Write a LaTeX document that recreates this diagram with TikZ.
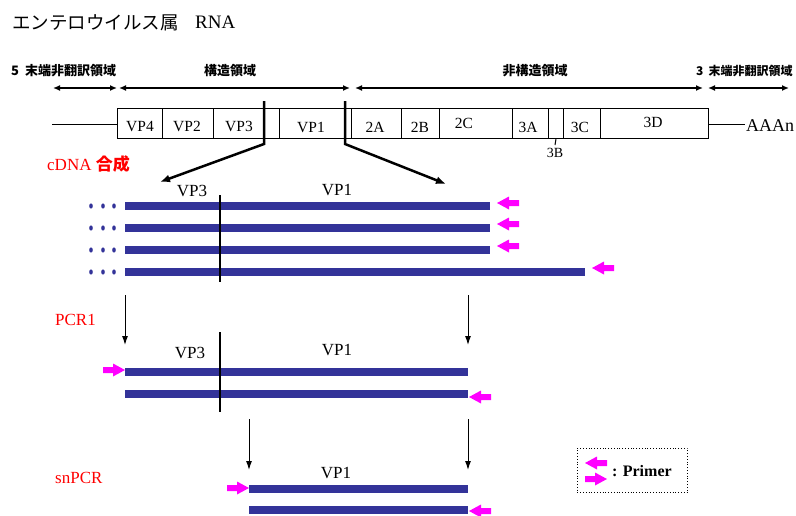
\documentclass[tikz,border=0pt]{standalone}
\usepackage{fontspec}
\setmainfont{Liberation Serif}
\newfontfamily\jp{Noto Sans CJK JP}
\usetikzlibrary{arrows.meta}
\definecolor{barblue}{RGB}{51,51,153}
\definecolor{prim}{RGB}{255,0,255}
\definecolor{lblred}{RGB}{255,0,0}
\begin{document}
\begin{tikzpicture}[x=1pt,y=-1pt,
  seg/.style={draw, line width=1pt, minimum height=30pt, inner sep=0pt, anchor=north west},
  lbl/.style={inner sep=0pt, anchor=base, font=\fontsize{15.5}{15.5}\selectfont},
  region/.style={inner sep=0pt, anchor=base, font=\jp\bfseries\fontsize{13}{13}\selectfont},
  big/.style={inner sep=0pt, anchor=base, font=\fontsize{17}{17}\selectfont},
  redlbl/.style={big, anchor=base west, text=lblred},
  span/.style={line width=1.5pt, {Latex[length=7pt,width=6pt]}-{Latex[length=7pt,width=6pt]}},
  strand/.style={fill=barblue, draw=none, inner sep=0pt, minimum height=8pt, anchor=west},
  cutline/.style={line width=2.5pt, -{Latex[length=10pt,width=8pt]}},
  vline/.style={line width=2.5pt},
  down/.style={line width=1pt, -{Latex[length=9pt,width=6pt]}},
  dotb/.style={fill=barblue},
  primerL/.pic={\fill[prim] (0,0) -- (12,-6.5) -- (12,-3) -- (22,-3) -- (22,3) -- (12,3) -- (12,6.5) -- cycle;},
  primerR/.pic={\fill[prim] (0,0) -- (-12,-6.5) -- (-12,-3) -- (-22,-3) -- (-22,3) -- (-12,3) -- (-12,6.5) -- cycle;}]
\useasboundingbox (0,0) rectangle (796,515);

% title
\node[anchor=base west, inner sep=0pt, font=\jp\fontsize{18.5}{18.5}\selectfont] (title) at (12,29) {エンテロウイルス属};
\node[anchor=base west, inner sep=0pt, font=\fontsize{19}{19}\selectfont] (rna) at (195,28) {RNA};

% region labels
\node[region, anchor=base west] (r5) at (11,75) {5\hspace{6pt}末端非翻訳領域};
\node[region] (rs) at (230,75) {構造領域};
\node[region] (rn) at (535,75) {非構造領域};
\node[region, anchor=base west, font=\jp\bfseries\fontsize{12}{12}\selectfont] (r3) at (696,75) {3\hspace{5pt}末端非翻訳領域};

% span arrows
\coordinate (a1) at (53,88); \coordinate (a2) at (117,88);
\coordinate (a3) at (119,88); \coordinate (a4) at (350,88);
\coordinate (a5) at (355,88); \coordinate (a6) at (703,88);
\coordinate (a7) at (708,88); \coordinate (a8) at (789,88);
\draw[span] (a1) -- (a2);
\draw[span] (a3) -- (a4);
\draw[span] (a5) -- (a6);
\draw[span] (a7) -- (a8);

% genome
\node[seg, minimum width=45pt] (vp4) at (117,108) {};
\node[seg, minimum width=51pt] (vp2) at (162,108) {};
\node[seg, minimum width=51pt] (vp3) at (213,108) {};
\node[seg, minimum width=15pt] (gap1) at (264,108) {};
\node[seg, minimum width=66pt] (vp1) at (279,108) {};
\node[seg, minimum width=6pt] (gap2) at (345,108) {};
\node[seg, minimum width=50pt] (s2a) at (351,108) {};
\node[seg, minimum width=38pt] (s2b) at (401,108) {};
\node[seg, minimum width=73pt] (s2c) at (439,108) {};
\node[seg, minimum width=36pt] (s3a) at (512,108) {};
\node[seg, minimum width=15pt] (s3b) at (548,108) {};
\node[seg, minimum width=37pt] (s3c) at (563,108) {};
\node[seg, minimum width=108pt] (s3d) at (600,108) {};

\node[lbl] (t1) at (140,131) {VP4};
\node[lbl] (t2) at (187,131) {VP2};
\node[lbl] (t3) at (239,131) {VP3};
\node[lbl] (t4) at (311,132) {VP1};
\node[lbl] (t5) at (375,132) {2A};
\node[lbl] (t6) at (420,132) {2B};
\node[lbl] (t7) at (464,128) {2C};
\node[lbl] (t8) at (528,132) {3A};
\node[lbl] (t9) at (580,132) {3C};
\node[lbl] (t10) at (653,127) {3D};
\node[inner sep=0pt, anchor=base, font=\fontsize{14}{14}\selectfont] (t3b) at (555,157) {3B};
\draw[line width=1pt] (s3b.south) -- (555,145);

\coordinate (l5) at (52,124);
\draw[line width=1pt] (l5) -- (vp4.west |- l5);
\node[inner sep=0pt, anchor=base west, font=\fontsize{18}{18}\selectfont] (aaan) at (746,131) {AAAn};
\draw[line width=1pt] (s3d.east |- l5) -- (745,124);

% cut lines
\coordinate (c1top) at (264,101); \coordinate (c1bot) at (264,144); \coordinate (c1tip) at (160,182);
\coordinate (c2top) at (345,101); \coordinate (c2bot) at (345,144); \coordinate (c2tip) at (446,184);
\draw[cutline] (c1top) -- (c1bot) -- (c1tip);
\draw[cutline] (c2top) -- (c2bot) -- (c2tip);

% cDNA section
\node[redlbl] (cdna) at (47,170) {cDNA {\jp\bfseries 合成}};
\node[big] (cvp3) at (192,196) {VP3};
\node[big] (cvp1) at (337,195) {VP1};
\node[strand, minimum width=365pt] (b1) at (125,206) {};
\node[strand, minimum width=365pt] (b2) at (125,228) {};
\node[strand, minimum width=365pt] (b3) at (125,250) {};
\node[strand, minimum width=460pt] (b4) at (125,272) {};
\foreach \yy in {206,228,250,272}{
  \foreach \xx in {91,103,114}{
    \fill[dotb] (\xx,\yy) ellipse (1.8pt and 2.6pt);
  }
}
\draw[vline] (220,195) -- (220,282);
\pic at (497,203) {primerL};
\pic at (497,224) {primerL};
\pic at (497,246) {primerL};
\pic at (592,268) {primerL};

% PCR1 section
\node[redlbl] (pcr1) at (55,325) {PCR1};
\coordinate (d1s) at (125,295); \coordinate (d1e) at (125,345);
\coordinate (d2s) at (468,295); \coordinate (d2e) at (468,345);
\draw[down] (d1s) -- (d1e);
\draw[down] (d2s) -- (d2e);
\node[big] (pvp3) at (190,358) {VP3};
\node[big] (pvp1) at (337,355) {VP1};
\node[strand, minimum width=343pt] (p1) at (125,372) {};
\node[strand, minimum width=343pt] (p2) at (125,394) {};
\draw[vline] (220,332) -- (220,412);
\pic at (125,370) {primerR};
\pic at (469,397) {primerL};

% snPCR section
\node[redlbl] (snpcr) at (55,483) {snPCR};
\coordinate (d3s) at (249,419); \coordinate (d3e) at (249,470);
\coordinate (d4s) at (468,419); \coordinate (d4e) at (468,470);
\draw[down] (d3s) -- (d3e);
\draw[down] (d4s) -- (d4e);
\node[big] (svp1) at (336,478) {VP1};
\node[strand, minimum width=219pt] (n1) at (249,489) {};
\node[strand, minimum width=219pt] (n2) at (249,510) {};
\pic at (249,488) {primerR};
\pic at (469,511) {primerL};

% legend
\node[draw, dotted, line width=0.8pt, minimum width=110pt, minimum height=44pt, inner sep=0pt, anchor=north west] (legend) at (577,448) {};
\pic at (585,463) {primerL};
\pic at (607,479) {primerR};
\node[inner sep=0pt, anchor=base west, font=\bfseries\fontsize{16}{16}\selectfont] (ltxt) at (612,476) {: Primer};
\end{tikzpicture}
\end{document}
